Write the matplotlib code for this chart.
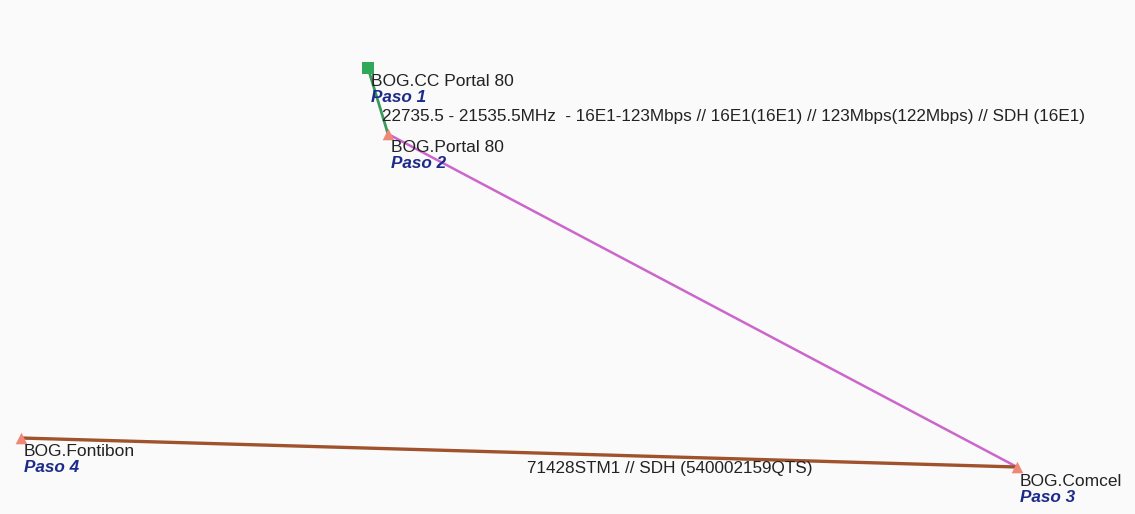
import matplotlib
matplotlib.use("Agg")
import matplotlib.pyplot as plt

# nodes (screen position in pixels of the original map)
node_names = ["BOG.CC Portal 80", "BOG.Portal 80", "BOG.Comcel", "BOG.Fontibon"]
node_steps = ["Paso 1", "Paso 2", "Paso 3", "Paso 4"]
node_x = [368, 388, 1017, 21]
node_y = [68, 134, 467, 438]
node_marker = ["s", "^", "^", "^"]
node_color = ["#2fa85a", "#f08878", "#f08878", "#f08878"]

# links between nodes (index pairs)
link_from = [0, 1, 3]
link_to = [1, 2, 2]
link_color = ["#3a9a5c", "#cc66cc", "#a0522d"]
link_width = [2.0, 1.8, 2.4]
link_labels = [
    "22735.5 - 21535.5MHz  - 16E1-123Mbps // 16E1(16E1) // 123Mbps(122Mbps) // SDH (16E1)",
    "",
    "71428STM1 // SDH (540002159QTS)",
]
link_label_pos = [(382, 117), None, (527, 468)]

plt.rcParams['font.family'] = ['Liberation Sans', 'DejaVu Sans']

fig = plt.figure(figsize=(11.35, 5.14), dpi=100)
fig.patch.set_facecolor("#fafafa")
ax = fig.add_axes([0, 0, 1, 1])
ax.set_facecolor("#fafafa")
ax.set_xlim(0, 1135)
ax.set_ylim(514, 0)
ax.axis("off")

for a, b, c, w in zip(link_from, link_to, link_color, link_width):
    ax.plot([node_x[a], node_x[b]], [node_y[a], node_y[b]], color=c, lw=w,
            solid_capstyle="butt", zorder=2)

for lab, pos in zip(link_labels, link_label_pos):
    if lab:
        ax.text(pos[0], pos[1], lab, fontsize=12.3, color="#222222",
                ha="left", va="center", zorder=4)

for name, step, x, y, m, c in zip(node_names, node_steps, node_x, node_y,
                                  node_marker, node_color):
    ax.scatter([x], [y], marker=m, s=80 if m == "s" else 70, color=c,
               zorder=3, linewidths=0)
    ax.text(x + 3, y + 14, name, fontsize=12.5, color="#222222",
            ha="left", va="center", zorder=4)
    ax.text(x + 3, y + 30, step, fontsize=12.3, color="#1c2a8c",
            style="italic", fontweight="bold", ha="left", va="center", zorder=4)

fig.savefig("out.png", dpi=100, facecolor=fig.get_facecolor())
